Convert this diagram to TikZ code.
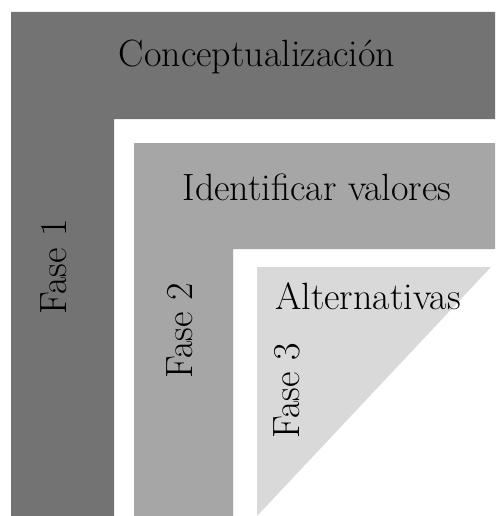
\documentclass[tikz,border=0pt]{standalone}
\begin{document}
\begin{tikzpicture}[x=1pt,y=-1pt,
  lbl/.style={inner sep=0pt, font=\fontsize{38}{40}\selectfont, text=black},
  vlbl/.style={lbl, rotate=90}]
\useasboundingbox (0,0) rectangle (495,516);
\fill[white] (0,0) rectangle (495,516);
% Fase 1 L-shape
\fill[black!55] (11,12) -- (495,12) -- (495,119) -- (114,119) -- (114,516) -- (11,516) -- cycle;
% Fase 2 L-shape
\fill[black!35] (134,143) -- (495,143) -- (495,249) -- (233,249) -- (233,516) -- (134,516) -- cycle;
% Fase 3 triangle
\fill[black!15] (257,267) -- (491,267) -- (257,516) -- cycle;
% labels
\node[lbl, anchor=base] (t1) at (257,67) {Conceptualización};
\node[lbl, anchor=base] (t2) at (317,200) {Identificar valores};
\node[lbl, anchor=base] (t3) at (368,309) {Alternativas};
\node[vlbl, anchor=base] (f1) at (66,267) {Fase 1};
\node[vlbl, anchor=base] (f2) at (192,331) {Fase 2};
\node[vlbl, anchor=base] (f3) at (299,391) {Fase 3};
\end{tikzpicture}
\end{document}
